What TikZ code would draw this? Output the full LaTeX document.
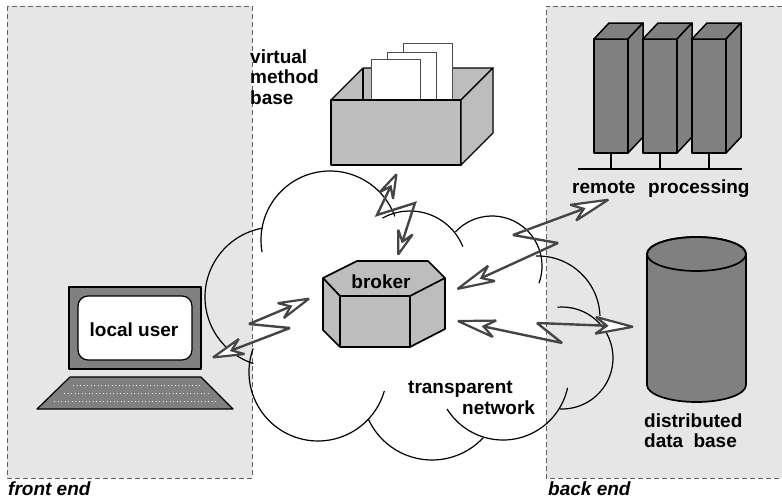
\documentclass[tikz,border=0pt]{standalone}
\usepackage{fontspec}
\setmainfont{Liberation Sans}
\usetikzlibrary{arrows.meta}
\definecolor{panelgray}{HTML}{E6E6E6}
\definecolor{darkfill}{HTML}{808080}
\definecolor{lightfill}{HTML}{BDBDBD}
\definecolor{boltgray}{HTML}{454545}
\definecolor{dashgray}{HTML}{606060}
\newcommand\lblfont{\fontsize{19}{22}\selectfont\bfseries}
\begin{document}
\begin{tikzpicture}[x=1pt,y=-1pt,
  panelline/.style={draw=dashgray,line width=0.9pt,dash pattern=on 5pt off 3pt},
  cloudarc/.style={draw=black,line width=1.2pt},
  heavy/.style={draw=black,line width=1.7pt,line join=round},
  light/.style={draw=black,line width=1.2pt,line join=round},
  paper/.style={draw=black!70,line width=1pt,fill=white},
  keydots/.style={draw=white!75!gray,line width=0.8pt,dash pattern=on 0.9pt off 2.6pt},
  lbl/.style={inner sep=0pt,anchor=base west,font=\lblfont},
  bolt/.style={draw=boltgray,line width=2.4pt,line join=miter,miter limit=3,
    {Stealth[fill=white,length=#1,width=21pt,inset=14pt,line width=2.2pt]}-{Stealth[fill=white,length=#1,width=21pt,inset=14pt,line width=2.2pt]}},
  bolt/.default=40pt]
\useasboundingbox (0,0) rectangle (782,498);

% front-end and back-end panels
\fill[panelgray] (7,6) rectangle (252,478);
\draw[panelline] (7,6) rectangle (252,478);
\fill[panelgray] (546,6) rectangle (790,478);
\draw[panelline] (790,6) -- (546,6) -- (546,478) -- (790,478);
\node[lbl,font=\lblfont\itshape] (frontlbl) at (8,495) {front end};
\node[lbl,font=\lblfont\itshape] (backlbl) at (548,495) {back end};

% network cloud, drawn as overlapping circular strokes
\draw[cloudarc] (330,240) ++(170:69) arc[start angle=170,end angle=340,radius=69];
\draw[cloudarc] (275,297) ++(260:70) arc[start angle=260,end angle=108,radius=70];
\draw[cloudarc] (410,268) ++(241:57) arc[start angle=241,end angle=338,radius=57];
\draw[cloudarc] (492,266) ++(223:50) arc[start angle=223,end angle=380,radius=50];
\draw[cloudarc] (538,318) ++(268:62) arc[start angle=268,end angle=358,radius=62];
\draw[cloudarc] (562,358) ++(265:51) arc[start angle=265,end angle=452,radius=51];
\draw[cloudarc] (503,374) ++(148:66) arc[start angle=148,end angle=12,radius=66];
\draw[cloudarc] (432,390) ++(155:70) arc[start angle=155,end angle=43,radius=70];
\draw[cloudarc] (318,372) ++(200:69) arc[start angle=200,end angle=16,radius=69];
\node[lbl] (transp) at (408,393) {transparent};
\node[lbl] (netw) at (462,414) {network};

% local user terminal
\filldraw[heavy,line width=1.4pt,fill=darkfill] (69,287) rectangle (201,369);
\filldraw[light,fill=white,rounded corners=10pt] (78,296) rectangle (192,360);
\node[lbl,anchor=base] (user) at (134,336) {local user};
\filldraw[light,fill=darkfill] (70,377) -- (201,377) -- (233,409) -- (37,409) -- cycle;
\draw[keydots] (73,385) -- (200,385);
\draw[keydots] (64,393) -- (208,393);
\draw[keydots] (54,401) -- (218,401);

% virtual method base: open box with sheets
\filldraw[light,fill=lightfill] (331,100) -- (363,68) -- (493,68) -- (461,100) -- cycle;
\draw[light] (363,68) -- (363,100);
\filldraw[paper] (403,100) rectangle (452,43);
\filldraw[paper] (387,100) rectangle (436,52);
\filldraw[paper] (371,100) rectangle (420,59);
\filldraw[light,fill=lightfill] (331,100) rectangle (461,165);
\filldraw[light,fill=lightfill] (461,100) -- (493,68) -- (493,133) -- (461,165) -- cycle;
\node[lbl] (vmb1) at (250,63) {virtual};
\node[lbl] (vmb2) at (250,83) {method};
\node[lbl] (vmb3) at (250,104) {base};

% remote processing: three server towers on a bus
\draw[heavy,line width=1.5pt] (578,169) -- (742,169);
\foreach \sx in {594,643,692}{
  \draw[heavy,line width=1.5pt] (\sx+17,153) -- (\sx+17,169);
  \filldraw[heavy,line width=1.5pt,fill=darkfill] (\sx,39) rectangle (\sx+34,153);
  \filldraw[heavy,line width=1.5pt,fill=darkfill] (\sx,39) -- (\sx+15,23) -- (\sx+49,23) -- (\sx+34,39) -- cycle;
  \filldraw[heavy,line width=1.5pt,fill=darkfill] (\sx+34,39) -- (\sx+49,23) -- (\sx+49,137) -- (\sx+34,153) -- cycle;
}
\node[lbl] (remote) at (572,193) {remote};
\node[lbl] (proc) at (648,193) {processing};

% distributed data base: cylinder
\filldraw[heavy,fill=darkfill] (647,254) -- (647,385)
  arc[start angle=180,end angle=0,x radius=49.5,y radius=17]
  -- (746,254) arc[start angle=0,end angle=-180,x radius=49.5,y radius=17] -- cycle;
\draw[heavy] (696.5,254) ellipse[x radius=49.5,y radius=17];
\node[lbl] (dist) at (644,427) {distributed};
\node[lbl] (dbase) at (644,447) {data\hspace{5pt} base};

% broker: hexagonal prism
\filldraw[heavy,fill=lightfill] (323,278) -- (357,261) -- (428,261) -- (445,278)
  -- (445,329) -- (410,347) -- (340,347) -- (323,330) -- cycle;
\draw[heavy] (323,278) -- (340,296) -- (410,296) -- (445,278);
\draw[heavy] (340,296) -- (340,347);
\draw[heavy] (410,296) -- (410,347);
\node[lbl,anchor=base] (broker) at (381,288) {broker};

% lightning links
\coordinate (aB) at (313,297);
\coordinate (aZ1) at (249,324);
\coordinate (aZ2) at (290,328);
\coordinate (aU) at (209,359);
\coordinate (bV) at (398,171);
\coordinate (bZ1) at (377,215);
\coordinate (bZ2) at (415,203);
\coordinate (bB) at (397,258);
\coordinate (cB) at (453,291);
\coordinate (cZ2) at (558,243);
\coordinate (cZ1) at (513,235);
\coordinate (cR) at (613,198);
\coordinate (dB) at (453,320);
\coordinate (dZ1) at (562,343);
\coordinate (dZ2) at (537,323);
\coordinate (dD) at (638,327);

\draw[bolt=40pt] (aU) -- (aZ2) -- (aZ1) -- (aB);
\draw[bolt=33pt] (bB) -- (bZ2) -- (bZ1) -- (bV);
\draw[bolt=47pt] (cB) -- (cZ2) -- (cZ1) -- (cR);
\draw[bolt=47pt] (dB) -- (dZ1) -- (dZ2) -- (dD);
\end{tikzpicture}
\end{document}
